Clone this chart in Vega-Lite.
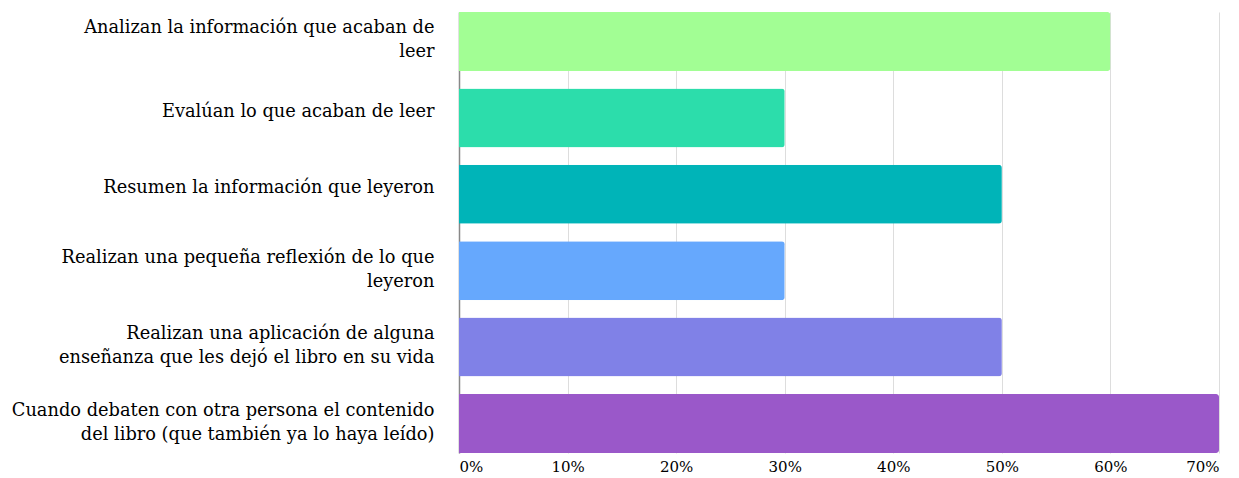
{
  "$schema": "https://vega.github.io/schema/vega-lite/v6.json",
  "autosize": {"type": "none"},
  "padding": {"left": 459, "top": 12, "right": 20, "bottom": 25},
  "width": 760,
  "height": 441,
  "background": "white",
  "data": {
    "values": [
      {"cat": "Analizan la información que acaban de|leer", "value": 0.6, "color": "#A2FE94"},
      {"cat": "Evalúan lo que acaban de leer", "value": 0.3, "color": "#2CDDAB"},
      {"cat": "Resumen la información que leyeron", "value": 0.5, "color": "#00B4B8"},
      {"cat": "Realizan una pequeña reflexión de lo que|leyeron", "value": 0.3, "color": "#66A8FD"},
      {"cat": "Realizan una aplicación de alguna|enseñanza que les dejó el libro en su vida", "value": 0.5, "color": "#8081E7"},
      {"cat": "Cuando debaten con otra persona el contenido|del libro (que también ya lo haya leído)", "value": 0.7, "color": "#9A58C9"}
    ]
  },
  "mark": {"type": "bar", "cornerRadiusEnd": 3},
  "encoding": {
    "y": {
      "field": "cat",
      "type": "nominal",
      "sort": null,
      "scale": {"paddingInner": 0.228, "paddingOuter": 0},
      "axis": {
        "title": null,
        "labelExpr": "split(datum.label, '|')",
        "labelFont": "DejaVu Serif",
        "labelFontSize": 17.8,
        "labelColor": "#000000",
        "labelLineHeight": 24,
        "labelPadding": 25,
        "labelLimit": 500,
        "labelOffset": {"condition": {"test": "indexof(datum.value, '|') >= 0", "value": -13}, "value": -6},
        "ticks": false,
        "domainColor": "#888888",
        "domainWidth": 1.5
      }
    },
    "x": {
      "field": "value",
      "type": "quantitative",
      "scale": {"domain": [0, 0.7], "nice": false},
      "axis": {
        "title": null,
        "format": ".0%",
        "values": [0, 0.1, 0.2, 0.3, 0.4, 0.5, 0.6, 0.7],
        "labelFont": "DejaVu Serif",
        "labelFontSize": 15,
        "labelColor": "#000000",
        "labelPadding": 6,
        "ticks": false,
        "domain": false,
        "grid": true,
        "gridColor": "#dddddd",
        "gridWidth": 1
      }
    },
    "color": {"field": "color", "type": "nominal", "scale": null, "legend": null}
  },
  "config": {"view": {"stroke": null}}
}
